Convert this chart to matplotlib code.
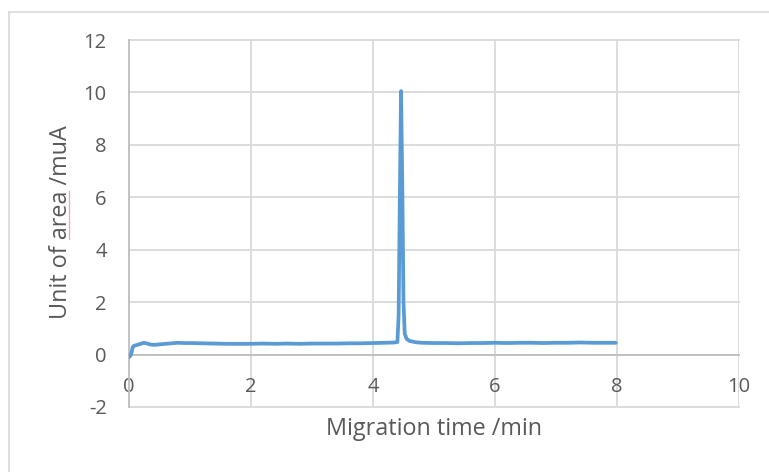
import matplotlib
matplotlib.use("Agg")
import matplotlib.pyplot as plt
from matplotlib.lines import Line2D

# ---- data ----
time_min = [0.00, 0.02, 0.04, 0.06, 0.08, 0.12, 0.18, 0.24, 0.30, 0.36, 0.42,
            0.50, 0.60, 0.70, 0.80, 0.90, 1.00, 1.20, 1.40, 1.60, 1.80, 2.00,
            2.20, 2.40, 2.60, 2.80, 3.00, 3.20, 3.40, 3.60, 3.80, 4.00, 4.20,
            4.35, 4.40, 4.42, 4.44, 4.46, 4.48, 4.50, 4.52, 4.55, 4.60, 4.70,
            4.80, 5.00, 5.20, 5.40, 5.60, 5.80, 6.00, 6.20, 6.40, 6.60, 6.80,
            7.00, 7.20, 7.40, 7.60, 7.80, 7.98]
signal_mua = [-0.10, -0.05, 0.05, 0.28, 0.33, 0.36, 0.40, 0.45, 0.42, 0.38, 0.37,
              0.39, 0.41, 0.43, 0.45, 0.44, 0.44, 0.43, 0.42, 0.41, 0.41, 0.41,
              0.42, 0.41, 0.42, 0.41, 0.42, 0.42, 0.42, 0.43, 0.43, 0.44, 0.45,
              0.46, 0.48, 1.50, 6.00, 10.05, 6.50, 2.00, 0.80, 0.60, 0.52, 0.47,
              0.45, 0.44, 0.44, 0.43, 0.44, 0.44, 0.45, 0.44, 0.45, 0.45, 0.44,
              0.45, 0.45, 0.46, 0.45, 0.45, 0.45]
x_ticks = [0, 2, 4, 6, 8, 10]
y_ticks = [-2, 0, 2, 4, 6, 8, 10, 12]
x_label = "Migration time /min"
y_label = "Unit of area /muA"

W, H = 769, 472
FONT = "Open Sans"
TXT = "#595959"
GRID = "#D9D9D9"
AXIS = "#BFBFBF"
TITLE_FS = 16.8

plt.rcParams["font.family"] = [FONT, "DejaVu Sans"]
fig = plt.figure(figsize=(W / 100, H / 100), dpi=100)
ax = fig.add_axes([129 / W, 1 - 407 / H, (739 - 129) / W, (407 - 40) / H])

ax.plot(time_min, signal_mua, color="#5B9BD5", lw=2.7, solid_capstyle="round",
        solid_joinstyle="round", zorder=3)

ax.set_xlim(0, 10)
ax.set_ylim(-2, 12)
ax.set_xticks(x_ticks)
ax.set_yticks(y_ticks)
ax.set_xticklabels([str(v) for v in x_ticks])
ax.set_yticklabels([str(v) for v in y_ticks])
ax.tick_params(axis="both", length=0, labelsize=14.5, labelcolor=TXT)
ax.tick_params(axis="x", pad=16)
ax.tick_params(axis="y", pad=16)

ax.set_axisbelow(True)
ax.grid(True, color=GRID, lw=1.3)
for gl in ax.get_xgridlines() + ax.get_ygridlines():
    gl.set_clip_on(False)

for s in ("top", "right"):
    ax.spines[s].set_visible(False)
ax.spines["bottom"].set_position(("data", 0))
ax.spines["bottom"].set_color(AXIS)
ax.spines["bottom"].set_linewidth(1.3)
ax.spines["left"].set_color(AXIS)
ax.spines["left"].set_linewidth(1.3)

# axis titles
fig.text(434 / W, 1 - 435 / H, x_label, ha="center", va="baseline",
         fontsize=TITLE_FS, color=TXT)
yl = fig.text(67 / W, 1 - 222 / H, y_label, ha="center", va="baseline",
              rotation=90, rotation_mode="anchor", fontsize=TITLE_FS, color=TXT)

# chart-area border (left and top visible)
fig.add_artist(Line2D([8.5 / W, 8.5 / W], [0, 1 - 11.5 / H], color=GRID, lw=1.2,
                      transform=fig.transFigure))
fig.add_artist(Line2D([8.5 / W, 1], [1 - 11.5 / H, 1 - 11.5 / H], color=GRID, lw=1.2,
                      transform=fig.transFigure))

# spell-check underline under "area" in the y title
fig.canvas.draw()
r = fig.canvas.get_renderer()
bb = yl.get_window_extent(r)
def _w(s):
    t = fig.text(0, 0, s, fontsize=TITLE_FS)
    w = t.get_window_extent(r).width
    t.remove()
    return w
full = _w(y_label)
a0 = _w("Unit of ") / full
a1 = _w("Unit of area") / full
y0 = bb.y0 + a0 * bb.height
y1 = bb.y0 + a1 * bb.height
ux = 68.5 / W
fig.add_artist(Line2D([ux, ux], [y0 / H, y1 / H], color="#F4A6A6", lw=0.9,
                      transform=fig.transFigure))

fig.savefig("out.png", dpi=100)
